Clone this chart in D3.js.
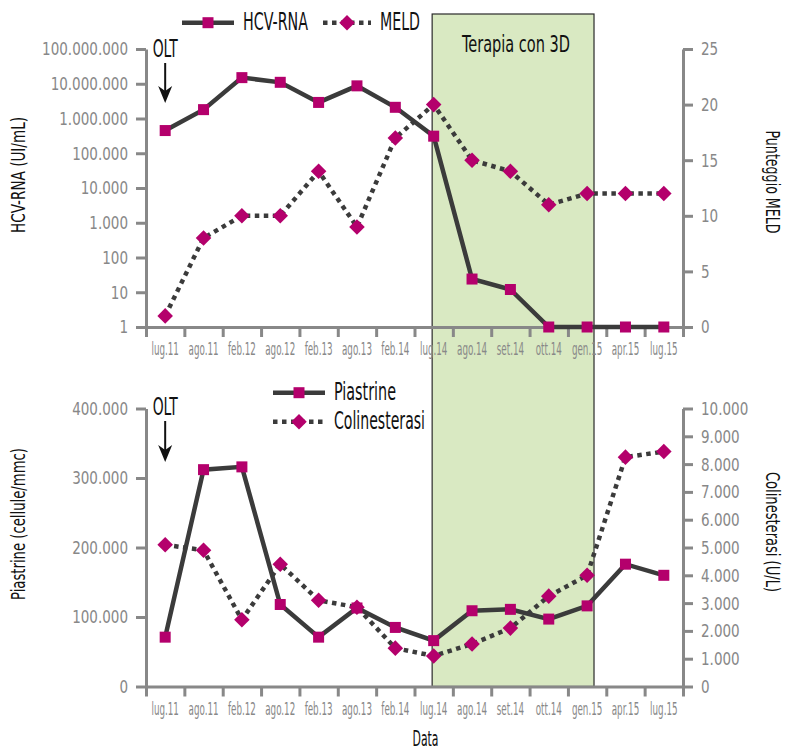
<!DOCTYPE html>
<html>
<head>
<meta charset="utf-8">
<script src="https://cdnjs.cloudflare.com/ajax/libs/d3/7.8.5/d3.min.js"></script>
<style>
  body { margin: 0; background: #fff; }
  svg { display: block; font-family: 'Liberation Sans Narrow', 'DejaVu Sans Condensed', sans-serif; }
</style>
</head>
<body>
<div id="grafico"></div>
<script>
// Dati
const categories = ['lug.11', 'ago.11', 'feb.12', 'ago.12', 'feb.13', 'ago.13', 'feb.14',
  'lug.14', 'ago.14', 'set.14', 'ott.14', 'gen.15', 'apr.15', 'lug.15']
const hcvRna = [450000, 1800000, 15000000, 11000000, 2900000, 8700000, 2100000,
  310000, 24, 12, 1, 1, 1, 1]
const meld = [1, 8, 10, 10, 14, 9, 17, 20, 15, 14, 11, 12, 12, 12]
const piastrine = [71000, 312000, 316000, 118000, 71000, 113000, 85000,
  66000, 109000, 111000, 97000, 116000, 176000, 160000]
const colinesterasi = [5100, 4900, 2400, 4400, 3100, 2850, 1380,
  1100, 1530, 2100, 3250, 4000, 8250, 8450]

// Tick
const hcvTicks = [1, 10, 100, 1000, 10000, 100000, 1000000, 10000000, 100000000]
const meldTicks = [0, 5, 10, 15, 20, 25]
const piastrineTicks = [0, 100000, 200000, 300000, 400000]
const colinTicks = d3.range(0, 10001, 1000)

// Periodo della terapia (in unità di categoria)
const therapySpan = [7.46, 11.68]

// Costanti
const width = 786
const height = 750
const left = 146
const right = 683
const top1 = 49, bottom1 = 327
const top2 = 408.5, bottom2 = 686.5
const grey = '#888888'
const dark = '#3b3b3b'
const magenta = '#b4006c'

const it = d3.formatLocale({ decimal: ',', thousands: '.', grouping: [3], currency: ['€', ''] })
const fmt = it.format(',')

const svg = d3.select('#grafico').append('svg')
  .attr('width', width)
  .attr('height', height)

// Scale
const x = d3.scaleBand().domain(categories).range([left, right])
const xIdx = d3.scaleLinear().domain([0, categories.length]).range([left, right])
const cx = d => x(d) + x.bandwidth() / 2

const yHcv = d3.scaleLog().domain([1, 1e8]).range([bottom1, top1])
const yMeld = d3.scaleLinear().domain([0, 25]).range([bottom1, top1])
const yPia = d3.scaleLinear().domain([0, 400000]).range([bottom2, top2])
const yCol = d3.scaleLinear().domain([0, 10000]).range([bottom2, top2])

// Testo con larghezza fissata (il font originale è molto condensato)
function label(g, str, px, py, size, len, opts = {}) {
  return g.append('text')
    .attr('transform', `translate(${px},${py}) rotate(${opts.rotate || 0})`)
    .attr('font-size', size)
    .attr('text-anchor', opts.anchor || 'start')
    .attr('fill', '#111')
    .attr('textLength', len)
    .attr('lengthAdjust', 'spacingAndGlyphs')
    .text(str)
}

// Fattore di compressione: il testo campione deve avere la larghezza voluta
function squeeze(sample, size, target) {
  const t = svg.append('text').attr('font-size', size).text(sample)
  const w = t.node().getComputedTextLength()
  t.remove()
  return target / w
}

// Riquadro terapia
svg.append('rect')
  .attr('x', xIdx(therapySpan[0]))
  .attr('y', 14)
  .attr('width', xIdx(therapySpan[1]) - xIdx(therapySpan[0]))
  .attr('height', bottom2 - 14)
  .attr('fill', '#d9e9c2')
  .attr('stroke', '#2a2a2a')
  .attr('stroke-width', 1.2)

label(svg, 'Terapia con 3D', (xIdx(therapySpan[0]) + xIdx(therapySpan[1])) / 2 + 3, 52, 23, 108, { anchor: 'middle' })

// Assi
function styleAxis(g) {
  g.attr('color', grey)
    .attr('font-family', null)
  g.selectAll('.domain, .tick line').attr('stroke-width', 3)
}

const xLabelSize = 18.5
const xLabelScale = squeeze('ago.12', xLabelSize, 30)

function drawXAxis(yPos) {
  svg.append('g')
    .attr('transform', `translate(0,${yPos})`)
    .call(d3.axisBottom(xIdx).tickValues(d3.range(categories.length + 1)).tickFormat('').tickSize(10).tickSizeOuter(0))
    .call(styleAxis)
  const lab = svg.append('g')
    .attr('transform', `translate(0,${yPos})`)
    .call(d3.axisBottom(x).tickSize(0).tickPadding(15))
    .call(styleAxis)
  lab.select('.domain').remove()
  lab.selectAll('text')
    .attr('font-size', xLabelSize)
    .attr('transform', `scale(${xLabelScale},1)`)
}

const yLabelSize = 18.5
const yLabelScale = squeeze('100.000.000', yLabelSize, 86)

function drawYAxis(axis, xPos, side) {
  svg.append('g')
    .attr('transform', `translate(${xPos},0)`)
    .call(axis.tickSize(10).tickPadding(8).tickSizeOuter(0))
    .call(styleAxis)
    .selectAll('text')
    .attr('font-size', yLabelSize)
    .attr('x', 0)
    .attr('transform', `translate(${18 * side},0) scale(${yLabelScale},1)`)
}

drawXAxis(bottom1)
drawXAxis(bottom2)
drawYAxis(d3.axisLeft(yHcv).tickValues(hcvTicks).tickFormat(fmt), left, -1)
drawYAxis(d3.axisRight(yMeld).tickValues(meldTicks), right, 1)
drawYAxis(d3.axisLeft(yPia).tickValues(piastrineTicks).tickFormat(fmt), left, -1)
drawYAxis(d3.axisRight(yCol).tickValues(colinTicks).tickFormat(fmt), right, 1)

// Serie
function drawSeries(values, yScale, dotted, marker) {
  const pts = values.map((v, i) => [cx(categories[i]), yScale(v)])
  svg.append('path')
    .attr('d', d3.line()(pts))
    .attr('fill', 'none')
    .attr('stroke', dark)
    .attr('stroke-width', 4.5)
    .attr('stroke-dasharray', dotted ? '4.5,4.5' : null)
  drawMarkers(pts, marker)
}

function drawMarkers(pts, marker) {
  const s = 11
  svg.selectAll(null)
    .data(pts)
    .enter()
    .append('rect')
    .attr('x', -s / 2)
    .attr('y', -s / 2)
    .attr('width', s)
    .attr('height', s)
    .attr('fill', magenta)
    .attr('transform', d => `translate(${d[0]},${d[1]})` + (marker === 'diamond' ? ' rotate(45)' : ''))
}

drawSeries(meld, yMeld, true, 'diamond')
drawSeries(hcvRna, yHcv, false, 'square')
drawSeries(colinesterasi, yCol, true, 'diamond')
drawSeries(piastrine, yPia, false, 'square')

// Legende
function legendItem(x0, x1, yPos, dotted, marker, text, len) {
  svg.append('line')
    .attr('x1', x0).attr('x2', x1)
    .attr('y1', yPos).attr('y2', yPos)
    .attr('stroke', dark)
    .attr('stroke-width', 4.5)
    .attr('stroke-dasharray', dotted ? '4.5,4.5' : null)
  drawMarkers([[(x0 + x1) / 2, yPos]], marker)
  label(svg, text, x1 + 9, yPos + 7, 24, len)
}

legendItem(182, 234, 22.7, false, 'square', 'HCV-RNA', 65)
legendItem(323, 371, 22.7, true, 'diamond', 'MELD', 40)
legendItem(273, 325, 392.7, false, 'square', 'Piastrine', 62)
legendItem(273, 325, 421.7, true, 'diamond', 'Colinesterasi', 91)

// Titoli assi
label(svg, 'HCV-RNA (UI/mL)', 25, 175, 20, 116, { rotate: -90, anchor: 'middle' })
label(svg, 'Punteggio MELD', 766, 182, 19.5, 103, { rotate: 90, anchor: 'middle' })
label(svg, 'Piastrine (cellule/mmc)', 25, 524, 20, 152, { rotate: -90, anchor: 'middle' })
label(svg, 'Colinesterasi (U/L)', 766, 532, 19.5, 120, { rotate: 90, anchor: 'middle' })
label(svg, 'Data', (left + right) / 2 + 11, 745.5, 21, 26, { anchor: 'middle' })

// OLT
function olt(yText, yTip) {
  const xc = cx(categories[0])
  label(svg, 'OLT', xc, yText, 24.5, 25, { anchor: 'middle' })
  svg.append('line')
    .attr('x1', xc).attr('x2', xc)
    .attr('y1', yText + 6).attr('y2', yTip - 10)
    .attr('stroke', '#111')
    .attr('stroke-width', 2)
  svg.append('path')
    .attr('d', `M${xc - 7},${yTip - 17} L${xc},${yTip} L${xc + 7},${yTip - 17} L${xc},${yTip - 12} Z`)
    .attr('fill', '#111')
}

olt(57, 103)
olt(415, 462)
</script>
</body>
</html>
